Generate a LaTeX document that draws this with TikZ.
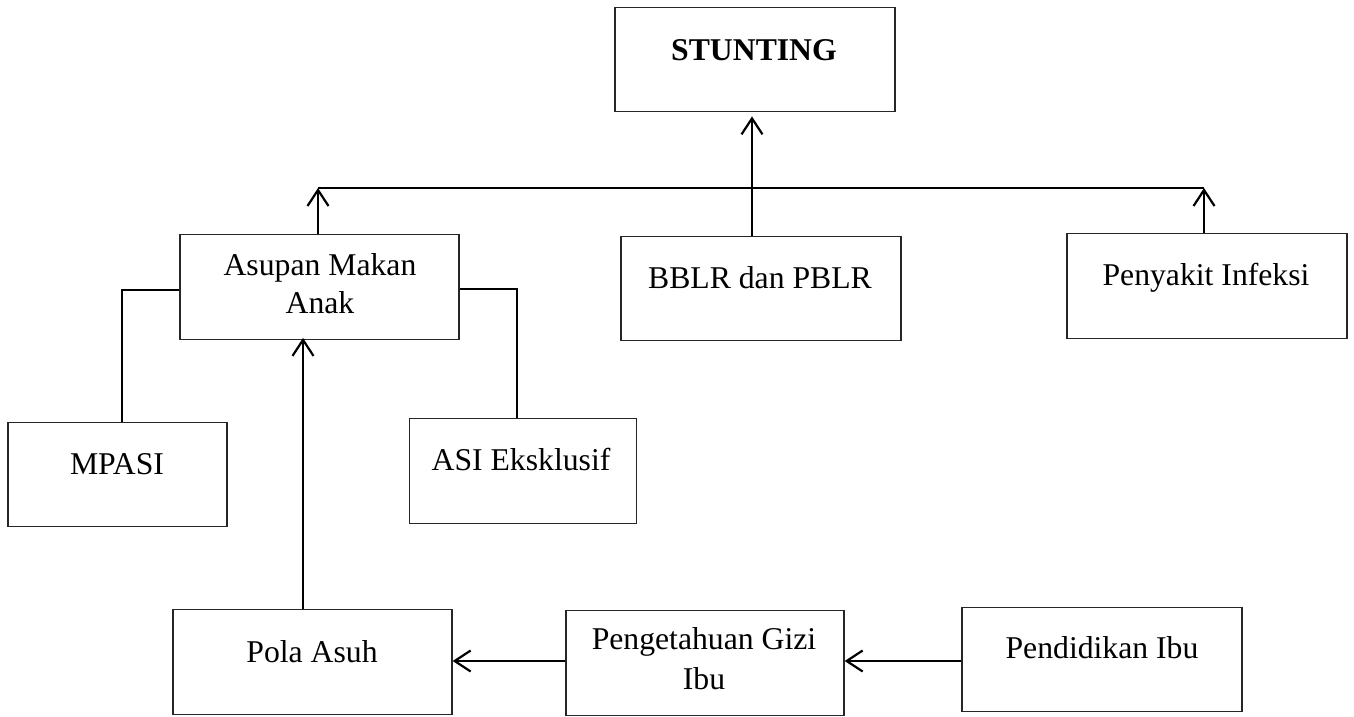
\documentclass[tikz,border=0pt]{standalone}
\usepackage{fontspec}
\setmainfont{Liberation Serif}
\usetikzlibrary{arrows.meta}
\begin{document}
\begin{tikzpicture}[x=1pt,y=-1pt,
  box/.style={draw=black!85,line width=1.3pt,minimum height=104.5pt,inner sep=0pt},
  lbl/.style={anchor=base,inner sep=0pt,font=\fontsize{31.7}{38}\selectfont},
  arr/.style={line width=2.4pt,-{Straight Barb[length=16pt,width=21pt,line width=2.2pt]}},
  link/.style={line width=1.7pt}]
\useasboundingbox (0,0) rectangle (1354,717);
% boxes
\node[box,minimum width=280pt] (stunting) at (755,59.5) {};
\node[box,minimum width=279pt] (asupan) at (319.5,287) {};
\node[box,minimum width=280pt] (bblr) at (761,288.5) {};
\node[box,minimum width=280pt] (penyakit) at (1207,286) {};
\node[box,minimum width=219pt] (mpasi) at (117.5,474.5) {};
\node[box,minimum width=227pt] (asi) at (523,471) {};
\node[box,minimum width=279pt] (pola) at (312.5,662) {};
\node[box,minimum width=278pt] (penget) at (705,663) {};
\node[box,minimum width=280pt] (pendidikan) at (1102,659.5) {};
% labels
\node[lbl,font=\fontsize{31.7}{38}\selectfont\bfseries] (t1) at (754,61) {STUNTING};
\node[lbl] (t2a) at (320,275) {Asupan Makan};
\node[lbl] (t2b) at (320,313) {Anak};
\node[lbl] (t3) at (760,288) {BBLR dan PBLR};
\node[lbl] (t4) at (1206,285) {Penyakit Infeksi};
\node[lbl] (t5) at (117,474) {MPASI};
\node[lbl] (t6) at (521,470) {ASI Eksklusif};
\node[lbl] (t7) at (312,662) {Pola Asuh};
\node[lbl] (t8a) at (704,649) {Pengetahuan Gizi};
\node[lbl] (t8b) at (704,689) {Ibu};
\node[lbl] (t9) at (1102,658) {Pendidikan Ibu};
% connectors
\coordinate (jl) at (318,188);
\coordinate (jr) at (1204,188);
\coordinate (cx) at (752,0);
\coordinate (ml) at (122,290);
\coordinate (mr) at (517,289);
\coordinate (pa) at (303,0);
\coordinate (hy) at (0,661);
\draw[line width=2pt] (jl) -- (jr);
\draw[arr] (asupan.north -| jl) -- (jl);
\draw[arr] (penyakit.north -| jr) -- (jr);
\draw[arr,shorten >=4pt] (bblr.north -| cx) -- (stunting.south -| cx);
\draw[link] (mpasi.north -| ml) -- (ml) -- (asupan.west |- ml);
\draw[link] (asupan.east |- mr) -- (mr) -- (asi.north -| mr);
\draw[arr,shorten >=-2pt] (pola.north -| pa) -- (asupan.south -| pa);
\draw[arr,line width=2.8pt] (penget.west |- hy) -- (pola.east |- hy);
\draw[arr,line width=2.8pt] (pendidikan.west |- hy) -- (penget.east |- hy);
\end{tikzpicture}
\end{document}
